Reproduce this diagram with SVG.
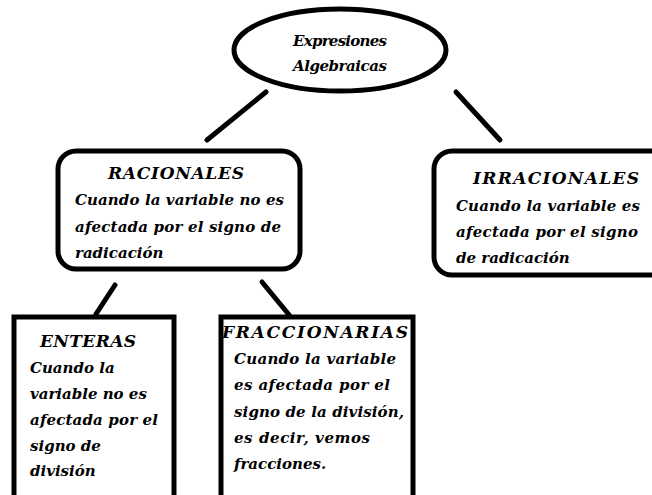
<svg xmlns="http://www.w3.org/2000/svg" width="652" height="495" viewBox="0 0 652 495">
<style>
.box{fill:#fff;stroke:#000;stroke-width:5}
.ln{stroke:#000;stroke-width:5;stroke-linecap:round;fill:none}
text{font-family:"DejaVu Serif","Liberation Serif",serif;font-style:italic;font-weight:bold;font-size:15px;fill:#000}
.t{font-size:17px}
</style>
<rect width="652" height="495" fill="#fff"/>
<g id="connectors">
<line class="ln" x1="266" y1="92" x2="207" y2="140"/>
<line class="ln" x1="456" y1="92" x2="500" y2="140"/>
<line class="ln" x1="115" y1="285" x2="96" y2="314"/>
<line class="ln" x1="262" y1="282" x2="290" y2="316"/>
</g>
<g id="root">
<ellipse class="box" cx="340" cy="50" rx="106" ry="41"/>
<text x="340" y="46" text-anchor="middle" textLength="94">Expresiones</text>
<text x="340" y="71" text-anchor="middle" textLength="94">Algebraicas</text>
</g>
<g id="racionales">
<rect class="box" x="58" y="151" width="242" height="118" rx="18"/>
<text x="176" y="179" text-anchor="middle" class="t" textLength="136">RACIONALES</text>
<text x="75" y="205" textLength="209">Cuando la variable no es</text>
<text x="75" y="232" textLength="206">afectada por el signo de</text>
<text x="75" y="258">radicación</text>
</g>
<g id="irracionales">
<rect class="box" x="434" y="151" width="240" height="124" rx="18"/>
<text x="556" y="184" text-anchor="middle" class="t" textLength="166">IRRACIONALES</text>
<text x="456" y="211" textLength="184">Cuando la variable es</text>
<text x="456" y="237" textLength="182">afectada por el signo</text>
<text x="456" y="263">de radicación</text>
</g>
<g id="enteras">
<rect class="box" x="14" y="317" width="160" height="190"/>
<text x="88" y="347" text-anchor="middle" class="t" textLength="96">ENTERAS</text>
<text x="30" y="373">Cuando la</text>
<text x="30" y="399">variable no es</text>
<text x="30" y="425" textLength="128">afectada por el</text>
<text x="30" y="451">signo de</text>
<text x="30" y="476">división</text>
</g>
<g id="fraccionarias">
<rect class="box" x="221" y="317" width="192" height="190"/>
<text x="315" y="338" text-anchor="middle" class="t" textLength="186">FRACCIONARIAS</text>
<text x="234" y="364" textLength="162">Cuando la variable</text>
<text x="234" y="390" textLength="156">es afectada por el</text>
<text x="234" y="417" textLength="170">signo de la división,</text>
<text x="234" y="443" textLength="136">es decir, vemos</text>
<text x="234" y="469">fracciones.</text>
</g>
</svg>
